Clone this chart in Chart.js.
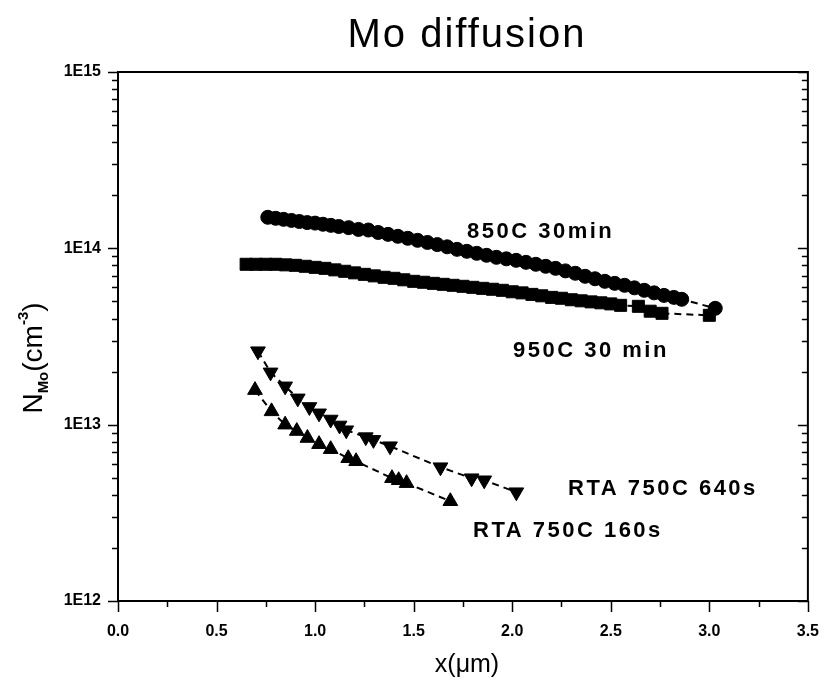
<!DOCTYPE html>
<html>
<head>
<meta charset="utf-8">
<script src="https://cdn.jsdelivr.net/npm/chart.js@4/dist/chart.umd.min.js"></script>
<style>
html,body{margin:0;padding:0;background:#fff;}
#wrap{width:840px;height:686px;position:relative;}
</style>
</head>
<body>
<div id="wrap"><canvas id="c" width="840" height="686"></canvas></div>
<script>
// ---- data (x in µm, N in cm^-3) ----
const title = "Mo diffusion";
const xTickLabels = ["0.0","0.5","1.0","1.5","2.0","2.5","3.0","3.5"];
const yTickLabels = ["1E12","1E13","1E14","1E15"];

const label850 = "850C 30min";
const x850 = [0.76,0.80,0.84,0.88,0.92,0.96,1.00,1.04,1.08,1.12,1.17,1.22,1.27,1.32,1.37,1.42,1.47,1.52,1.57,1.62,1.67,1.72,1.77,1.82,1.87,1.92,1.97,2.02,2.07,2.12,2.17,2.22,2.27,2.32,2.37,2.42,2.47,2.52,2.57,2.62,2.67,2.72,2.77,2.82,2.86,3.03];
const n850 = [1.50e14,1.48e14,1.46e14,1.44e14,1.42e14,1.40e14,1.39e14,1.37e14,1.35e14,1.33e14,1.31e14,1.28e14,1.27e14,1.23e14,1.20e14,1.17e14,1.14e14,1.11e14,1.08e14,1.05e14,1.02e14,9.87e13,9.62e13,9.37e13,9.13e13,8.89e13,8.72e13,8.55e13,8.33e13,8.12e13,7.91e13,7.70e13,7.45e13,7.22e13,6.94e13,6.72e13,6.50e13,6.33e13,6.17e13,5.97e13,5.78e13,5.59e13,5.41e13,5.27e13,5.14e13,4.57e13];

const label950 = "950C 30 min";
const x950 = [0.65,0.70,0.75,0.80,0.85,0.90,0.95,1.00,1.05,1.10,1.15,1.20,1.25,1.30,1.35,1.40,1.45,1.50,1.55,1.60,1.65,1.70,1.75,1.80,1.85,1.90,1.95,2.00,2.05,2.10,2.15,2.20,2.25,2.30,2.35,2.40,2.45,2.50,2.55,2.64,2.70,2.76,3.00];
const n950 = [8.12e13,8.12e13,8.12e13,8.12e13,8.06e13,8.01e13,7.91e13,7.80e13,7.70e13,7.55e13,7.41e13,7.26e13,7.12e13,6.98e13,6.85e13,6.76e13,6.63e13,6.50e13,6.42e13,6.33e13,6.25e13,6.17e13,6.09e13,6.01e13,5.93e13,5.86e13,5.78e13,5.67e13,5.59e13,5.48e13,5.38e13,5.27e13,5.21e13,5.11e13,5.04e13,4.97e13,4.91e13,4.84e13,4.75e13,4.69e13,4.40e13,4.28e13,4.17e13];

const label640 = "RTA 750C 640s";
const x640 = [0.71,0.774,0.848,0.912,0.971,1.020,1.079,1.124,1.158,1.257,1.296,1.380,1.636,1.794,1.858,2.021];
const n640 = [2.61e13,1.98e13,1.65e13,1.41e13,1.26e13,1.16e13,1.07e13,9.9e12,9.3e12,8.5e12,8.2e12,7.55e12,5.74e12,4.97e12,4.84e12,4.14e12];

const label160 = "RTA 750C 160s";
const x160 = [0.695,0.779,0.848,0.907,0.961,1.020,1.079,1.168,1.208,1.390,1.424,1.464,1.686];
const n160 = [1.57e13,1.19e13,1.0e13,9.2e12,8.4e12,7.75e12,7.26e12,6.45e12,6.2e12,4.97e12,4.84e12,4.66e12,3.68e12];

const xTitle = "x(\u03bcm)";

function pts(xs, ys){ return xs.map((x,i)=>({x:x,y:ys[i]})); }

const common = {
  showLine:true, borderColor:'#000', borderWidth:2, borderDash:[7,5],
  pointBackgroundColor:'#000', pointBorderColor:'#000', pointBorderWidth:1, tension:0
};

const decorPlugin = {
  id:'decor',
  afterDraw(chart){
    const ctx = chart.ctx;
    const xs = chart.scales.x, ys = chart.scales.y;
    const a = chart.chartArea;
    ctx.save();
    ctx.strokeStyle = '#000';
    ctx.lineWidth = 2;
    ctx.strokeRect(a.left, a.top, a.right - a.left, a.bottom - a.top);
    ctx.lineWidth = 1.5;
    ctx.beginPath();
    // y ticks (log): majors and minors
    for (let e = 12; e <= 15; e++) {
      for (let m = 1; m <= 9; m++) {
        const v = m * Math.pow(10, e);
        if (v > 1e15 * 1.0001) break;
        const py = Math.round(ys.getPixelForValue(v)) + 0.5;
        const len = (m === 1) ? 10 : 6;
        ctx.moveTo(a.left - len, py); ctx.lineTo(a.left, py);
        ctx.moveTo(a.right, py); ctx.lineTo(a.right - len, py);
      }
    }
    // x ticks
    for (let k = 0; k <= 14; k++) {
      const v = k * 0.25;
      const px = Math.round(xs.getPixelForValue(v)) + 0.5;
      const len = (k % 2 === 0) ? 11 : 6;
      ctx.moveTo(px, a.bottom); ctx.lineTo(px, a.bottom + len);
    }
    ctx.stroke();

    ctx.fillStyle = '#000';
    // title
    ctx.textBaseline = 'alphabetic';
    ctx.textAlign = 'center';
    ctx.font = '40px "Liberation Sans", Arial, sans-serif';
    ctx.letterSpacing = '2px';
    ctx.fillText(title, 467, 47);

    // annotations
    ctx.textAlign = 'left';
    ctx.font = 'bold 22px "Liberation Sans", Arial, sans-serif';
    ctx.letterSpacing = '2.5px';
    ctx.fillText(label850, 467, 238);
    ctx.fillText(label950, 513, 357);
    ctx.fillText(label640, 568, 495);
    ctx.fillText(label160, 473, 537);

    // x title
    ctx.textAlign = 'center';
    ctx.font = '25px "Liberation Sans", Arial, sans-serif';
    ctx.letterSpacing = '0px';
    ctx.fillText(xTitle, 467, 672);

    // y title (rotated) N_Mo(cm^-3)
    ctx.save();
    ctx.translate(42, 358);
    ctx.rotate(-Math.PI/2);
    const big = '28px "Liberation Sans", Arial, sans-serif';
    const small = 'bold 15px "Liberation Sans", Arial, sans-serif';
    const parts = [
      {t:'N', f:big, dy:0},
      {t:'Mo', f:small, dy:6},
      {t:'(cm', f:big, dy:0},
      {t:'-3', f:small, dy:-14},
      {t:')', f:big, dy:0}
    ];
    let total = 0;
    parts.forEach(p => { ctx.font = p.f; p.w = ctx.measureText(p.t).width; total += p.w; });
    let cx = -total/2;
    ctx.textAlign = 'left';
    parts.forEach(p => { ctx.font = p.f; ctx.fillText(p.t, cx, p.dy); cx += p.w; });
    ctx.restore();
    ctx.restore();
  }
};

new Chart(document.getElementById('c'), {
  type:'scatter',
  data:{
    datasets:[
      Object.assign({label:label850, data:pts(x850,n850), pointStyle:'circle', pointRadius:7}, common),
      Object.assign({label:label950, data:pts(x950,n950), pointStyle:'rect', pointRadius:8.5}, common),
      Object.assign({label:label640, data:pts(x640,n640), pointStyle:'triangle', pointRadius:8.5, pointRotation:180}, common),
      Object.assign({label:label160, data:pts(x160,n160), pointStyle:'triangle', pointRadius:8.5}, common)
    ]
  },
  options:{
    responsive:false,
    animation:false,
    events:[],
    layout:{padding:{top:72, right:12, left:0, bottom:0}},
    plugins:{legend:{display:false}, tooltip:{enabled:false}, title:{display:false}},
    scales:{
      x:{
        type:'linear', min:0, max:3.5,
        grid:{display:false, drawTicks:false},
        border:{display:false},
        ticks:{stepSize:0.5, padding:21, color:'#000',
          font:{family:'"Liberation Sans", Arial, sans-serif', size:16, weight:'bold'},
          callback:(v)=>{ const i = Math.round(v/0.5); return Math.abs(v - i*0.5) < 1e-9 ? xTickLabels[i] : ''; }},
        afterFit:(s)=>{ s.height = 85; }
      },
      y:{
        type:'logarithmic', min:1e12, max:1e15,
        grid:{display:false, drawTicks:false},
        border:{display:false},
        ticks:{autoSkip:false, padding:17, color:'#000',
          font:{family:'"Liberation Sans", Arial, sans-serif', size:16, weight:'bold'},
          callback:(v)=>{ const e = Math.log10(v); const r = Math.round(e);
            return Math.abs(e - r) < 1e-6 ? yTickLabels[r-12] : ''; }},
        afterFit:(s)=>{ s.width = 118; }
      }
    }
  },
  plugins:[decorPlugin]
});
</script>
</body>
</html>
